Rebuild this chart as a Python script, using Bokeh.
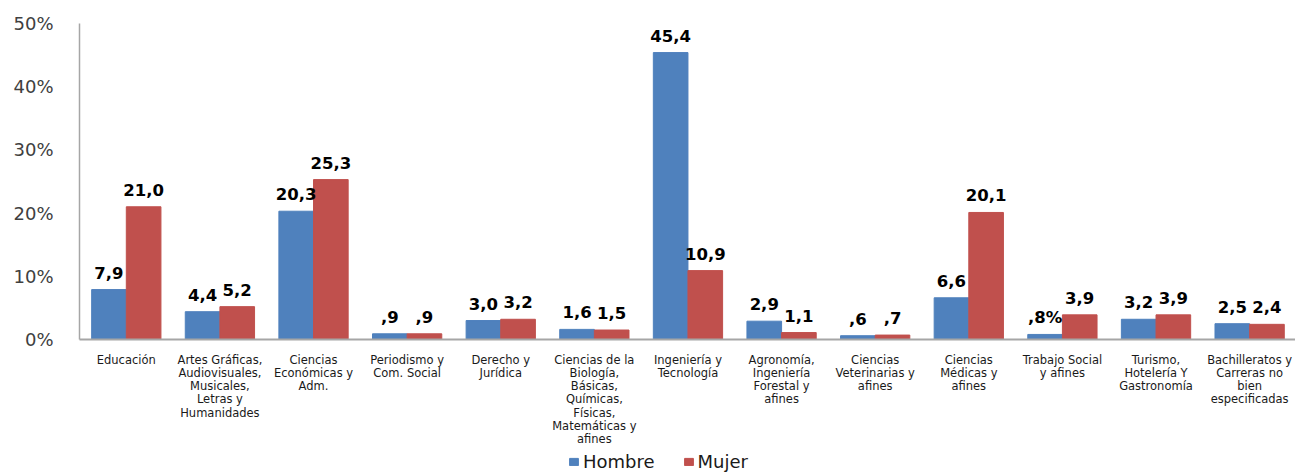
from bokeh.plotting import figure
from bokeh.layouts import column
from bokeh.models import ColumnDataSource, Range1d, FixedTicker, Legend, LegendItem, LabelSet
from bokeh.transform import dodge
from bokeh.core.properties import value
from bokeh.embed import file_html
from bokeh.resources import INLINE

categories = [
    "Educación",
    "Artes Gráficas, Audiovisuales, Musicales, Letras y Humanidades",
    "Ciencias Económicas y Adm.",
    "Periodismo y Com. Social",
    "Derecho y Jurídica",
    "Ciencias de la Biología, Básicas, Químicas, Físicas, Matemáticas y afines",
    "Ingeniería y Tecnología",
    "Agronomía, Ingeniería Forestal y afines",
    "Ciencias Veterinarias y afines",
    "Ciencias Médicas y afines",
    "Trabajo Social y afines",
    "Turismo, Hotelería Y Gastronomía",
    "Bachilleratos y Carreras no bien especificadas",
]
category_labels = [
    "Educación",
    "Artes Gráficas,\nAudiovisuales,\nMusicales,\nLetras y\nHumanidades",
    "Ciencias\nEconómicas y\nAdm.",
    "Periodismo y\nCom. Social",
    "Derecho y\nJurídica",
    "Ciencias de la\nBiología,\nBásicas,\nQuímicas,\nFísicas,\nMatemáticas y\nafines",
    "Ingeniería y\nTecnología",
    "Agronomía,\nIngeniería\nForestal y\nafines",
    "Ciencias\nVeterinarias y\nafines",
    "Ciencias\nMédicas y\nafines",
    "Trabajo Social\ny afines",
    "Turismo,\nHotelería Y\nGastronomía",
    "Bachilleratos y\nCarreras no\nbien\nespecificadas",
]
hombre = [7.9, 4.4, 20.3, 0.9, 3.0, 1.6, 45.4, 2.9, 0.6, 6.6, 0.8, 3.2, 2.5]
mujer = [21.0, 5.2, 25.3, 0.9, 3.2, 1.5, 10.9, 1.1, 0.7, 20.1, 3.9, 3.9, 2.4]
hombre_labels = ["7,9", "4,4", "20,3", ",9", "3,0", "1,6", "45,4", "2,9", ",6", "6,6", ",8%", "3,2", "2,5"]
mujer_labels = ["21,0", "5,2", "25,3", ",9", "3,2", "1,5", "10,9", "1,1", ",7", "20,1", "3,9", "3,9", "2,4"]
series_names = ["Hombre", "Mujer"]
y_ticks = [0, 10, 20, 30, 40, 50]
y_tick_labels = ["0%", "10%", "20%", "30%", "40%", "50%"]

idx = list(range(len(categories)))
source = ColumnDataSource(dict(x=idx, cat=categories, hombre=hombre, mujer=mujer,
                               hl=hombre_labels, ml=mujer_labels))

BLUE = "#4F81BD"
RED = "#C0504D"
W = 0.37

p = figure(width=1295, height=449,
           x_range=Range1d(-0.5, 12.49), y_range=Range1d(0, 50),
           output_backend="svg", toolbar_location=None,
           min_border_left=79, min_border_right=0,
           min_border_top=23, min_border_bottom=104)

r1 = p.vbar(x=dodge("x", -W / 2), top="hombre", width=W, source=source,
            fill_color=BLUE, line_color=BLUE)
r2 = p.vbar(x=dodge("x", W / 2), top="mujer", width=W, source=source,
            fill_color=RED, line_color=RED)

for off, col, lab in [(-W / 2, "hombre", "hl"), (W / 2, "mujer", "ml")]:
    p.add_layout(LabelSet(x=dodge("x", off), y=col, text=lab, source=source,
                          text_align="center", text_baseline="alphabetic",
                          y_offset=11, text_font=value("DejaVu Sans"),
                          text_font_style="bold", text_font_size="16.5px",
                          text_color="black"))

p.xgrid.grid_line_color = None
p.ygrid.grid_line_color = None
p.outline_line_color = None

xa = p.xaxis[0]
xa.ticker = FixedTicker(ticks=idx)
xa.major_label_overrides = {i: lab for i, lab in enumerate(category_labels)}
xa.major_tick_line_color = None
xa.minor_tick_line_color = None
xa.axis_line_color = "#A6A6A6"
xa.axis_line_width = 2
xa.major_label_standoff = 7
xa.major_label_text_font = "DejaVu Sans"
xa.major_label_text_font_size = "11.5px"
xa.major_label_text_line_height = 0.95
xa.major_label_text_color = "#1a1a1a"

ya = p.yaxis[0]
ya.ticker = FixedTicker(ticks=y_ticks)
ya.major_label_overrides = {t: l for t, l in zip(y_ticks, y_tick_labels)}
ya.major_tick_line_color = None
ya.minor_tick_line_color = None
ya.axis_line_color = "#A6A6A6"
ya.axis_line_width = 1.5
ya.major_label_standoff = 20
ya.major_label_text_font = "DejaVu Sans"
ya.major_label_text_font_size = "18px"
ya.major_label_text_color = "#404040"

# legend strip below the chart (dummy renderers sit outside its visible range)
lg = figure(width=1295, height=23, x_range=Range1d(-10, -9), y_range=Range1d(-10, -9),
            output_backend="svg", toolbar_location=None,
            min_border_left=0, min_border_right=0, min_border_top=0, min_border_bottom=0)
lg.axis.visible = False
lg.grid.visible = False
lg.outline_line_color = None
d1 = lg.vbar(x=idx[:1], top=hombre[:1], width=W, fill_color=BLUE, line_color=BLUE)
d2 = lg.vbar(x=idx[:1], top=mujer[:1], width=W, fill_color=RED, line_color=RED)
legend = Legend(items=[LegendItem(label=series_names[0], renderers=[d1]),
                       LegendItem(label=series_names[1], renderers=[d2])],
                location=(489, 0), orientation="horizontal",
                glyph_width=11, glyph_height=9, label_standoff=4, spacing=28,
                padding=0, margin=0, label_height=22,
                label_text_font="DejaVu Sans", label_text_font_size="18px",
                label_text_color="#1a1a1a",
                border_line_color=None, background_fill_alpha=0)
lg.add_layout(legend)

open("out.html", "w").write(file_html(column(p, lg, spacing=0), INLINE))
